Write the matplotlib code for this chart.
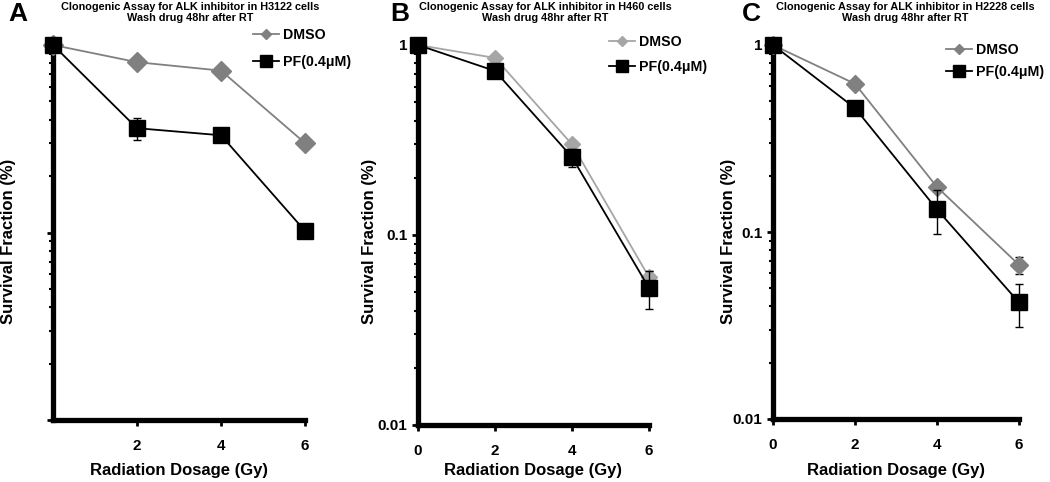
import matplotlib
matplotlib.use("Agg")
import matplotlib.pyplot as plt
from matplotlib.ticker import LogLocator, NullFormatter, FixedLocator
from matplotlib.lines import Line2D

plt.rcParams['font.family'] = ['Liberation Sans', 'DejaVu Sans']
plt.rcParams['font.weight'] = 'bold'

dose = [0, 2, 4, 6]

# Panel A (H3122)
a_dmso = [1.0, 0.81, 0.73, 0.30]
a_dmso_err = [0, 0, 0, 0]
a_pf = [1.0, 0.36, 0.33, 0.102]
a_pf_err = [0, 0.047, 0, 0.006]

# Panel B (H460)
b_dmso = [1.0, 0.855, 0.30, 0.060]
b_dmso_err = [0, 0, 0, 0.005]
b_pf = [1.0, 0.73, 0.257, 0.0526]
b_pf_err = [0, 0.04, 0.028, 0.012]

# Panel C (H2228)
c_dmso = [1.0, 0.62, 0.174, 0.0667]
c_dmso_err = [0, 0, 0, 0.007]
c_pf = [1.0, 0.46, 0.132, 0.042]
c_pf_err = [0, 0.04, 0.035, 0.011]

titles = ["Clonogenic Assay for ALK inhibitor in H3122 cells\nWash drug 48hr after RT",
          "Clonogenic Assay for ALK inhibitor in H460 cells\nWash drug 48hr after RT",
          "Clonogenic Assay for ALK inhibitor in H2228 cells\nWash drug 48hr after RT"]
letters = ["A", "B", "C"]
legend_labels = ['DMSO', 'PF(0.4μM)']

W, H = 1050, 482
fig = plt.figure(figsize=(W / 100, H / 100), dpi=100)

def px_axes(l, t, r, b):
    return fig.add_axes([l / W, (H - b) / H, (r - l) / W, (b - t) / H])

panels = [
    dict(box=(53, 45, 305, 420), dmso=a_dmso, de=a_dmso_err, pf=a_pf, pe=a_pf_err,
         dcol='#808080', dms=10, ylabels=False, xt=[2, 4, 6], ylx=1, leg=(253, 35, 62),
         title_x=190, let_x=8),
    dict(box=(418, 45, 649, 425), dmso=b_dmso, de=b_dmso_err, pf=b_pf, pe=b_pf_err,
         dcol='#a6a6a6', dms=8, ylabels=True, xt=[0, 2, 4, 6], ylx=362, leg=(609, 42, 67),
         title_x=545, let_x=390),
    dict(box=(773, 45, 1019, 419), dmso=c_dmso, de=c_dmso_err, pf=c_pf, pe=c_pf_err,
         dcol='#808080', dms=9, ylabels=True, xt=[0, 2, 4, 6], ylx=721, leg=(946, 50, 72),
         title_x=905, let_x=742),
]

for i, p in enumerate(panels):
    l, t, r, b = p['box']
    ax = px_axes(l, t, r, b)
    ax.set_yscale('log')
    ax.set_ylim(0.01, 1)
    ax.set_xlim(0, 6)
    ax.errorbar(dose, p['dmso'], yerr=p['de'], color=p['dcol'], marker='D', markersize=p['dms'],
                lw=1.3, capsize=3, ecolor='black', elinewidth=1, clip_on=False, zorder=3)
    ax.errorbar(dose, p['pf'], yerr=p['pe'], color='black', marker='s', markersize=12,
                lw=1.3, capsize=3, ecolor='black', elinewidth=1, clip_on=False, zorder=4)
    for s in ['top', 'right']:
        ax.spines[s].set_visible(False)
    for s in ['left', 'bottom']:
        ax.spines[s].set_linewidth(3.8)
    ax.xaxis.set_major_locator(FixedLocator(p['xt']))
    ax.tick_params(axis='x', length=4, width=2, labelsize=11, pad=10)
    ax.yaxis.set_major_locator(LogLocator(base=10, numticks=5))
    ax.yaxis.set_minor_locator(LogLocator(base=10, subs=range(2, 10), numticks=20))
    ax.yaxis.set_minor_formatter(NullFormatter())
    ax.tick_params(axis='y', which='major', length=4, width=2, labelsize=11)
    ax.tick_params(axis='y', which='minor', length=3, width=1.5)
    if p['ylabels']:
        ax.set_yticks([0.01, 0.1, 1])
        ax.set_yticklabels(['0.01', '0.1', '1'])
    else:
        ax.set_yticklabels([])
    for lab in ax.get_xticklabels() + ax.get_yticklabels():
        lab.set_fontweight('bold')
    fig.text(p['ylx'] / W, 0.5, "Survival Fraction (%)", rotation=90, ha='left', va='center',
             fontsize=12, fontweight='bold')
    fig.text((l + r) / 2 / W, (H - 470) / H, "Radiation Dosage (Gy)", ha='center', va='center',
             fontsize=12, fontweight='bold')
    fig.text(p['title_x'] / W, (H - 2) / H, titles[i], ha='center', va='top', fontsize=7.8,
             fontweight='bold', linespacing=1.1)
    fig.text(p['let_x'] / W, (H - 2) / H, letters[i], ha='left', va='top', fontsize=19,
             fontweight='bold')
    # legend entries drawn as two single-entry legends for exact spacing
    lx, y1, y2 = p['leg']
    handles = [Line2D([], [], color=p['dcol'], marker='D', markersize=5, lw=1.3),
               Line2D([], [], color='black', marker='s', markersize=8, lw=1.3)]
    for h, lab, yy in zip(handles, legend_labels, [y1, y2]):
        fig.legend([h], [lab], loc='center left',
                   bbox_to_anchor=(lx / W, (H - yy) / H), frameon=False,
                   prop={'weight': 'bold', 'size': 10.2}, handlelength=1.8,
                   handletextpad=0.3, borderaxespad=0, borderpad=0)

fig.savefig('out.png', dpi=100)
